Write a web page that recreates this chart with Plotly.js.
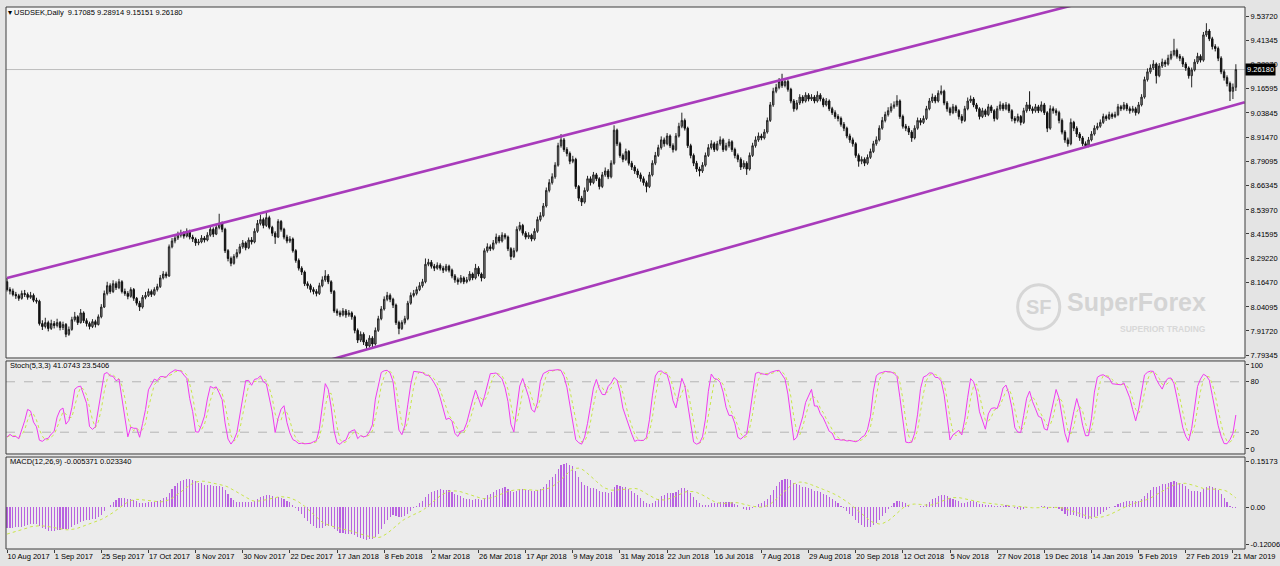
<!DOCTYPE html>
<html><head><meta charset="utf-8">
<script src="https://cdn.plot.ly/plotly-3.0.1.min.js"></script>
<style>html,body{margin:0;padding:0;background:#e4e4e4;}#chart{width:1280px;height:566px;}</style>
</head><body><div id="chart"></div>
<script>
// ---- Chart data ----
const symbolTitle = 'USDSEK,Daily';
const headerValues = ['9.17085', '9.28914', '9.15151', '9.26180'];
const stochLabel = 'Stoch(5,3,3) 41.0743 23.5406';
const macdLabel = 'MACD(12,26,9) -0.005371 0.023340';
const dateLabels = ['10 Aug 2017','1 Sep 2017','25 Sep 2017','17 Oct 2017','8 Nov 2017','30 Nov 2017','22 Dec 2017','17 Jan 2018','8 Feb 2018','2 Mar 2018','26 Mar 2018','17 Apr 2018','9 May 2018','31 May 2018','22 Jun 2018','16 Jul 2018','7 Aug 2018','29 Aug 2018','20 Sep 2018','12 Oct 2018','5 Nov 2018','27 Nov 2018','19 Dec 2018','14 Jan 2019','5 Feb 2019','27 Feb 2019','21 Mar 2019'];
const barsPerLabel = 16;
const priceTickValues = [9.53720, 9.41345, 9.28970, 9.16595, 9.03845, 8.91470, 8.79095, 8.66345, 8.53970, 8.41595, 8.29220, 8.16470, 8.04095, 7.91720, 7.79345];
const stochTickValues = [100, 80, 20, 0];
const stochLevels = [80, 20];
const macdTickValues = [0.15173, 0.00, -0.12006];
const macdTickText = ['0.15173', '0.00', '-0.12006'];

const opens = [
8.170,8.130,8.122,8.105,8.098,8.085,8.110,8.105,8.090,8.100,
8.075,8.070,7.955,7.940,7.960,7.930,7.955,7.945,7.960,7.935,
7.950,7.900,7.925,7.975,7.990,7.960,8.010,7.970,7.955,7.940,
7.965,7.950,7.990,8.040,8.110,8.150,8.120,8.160,8.140,8.170,
8.120,8.110,8.095,8.130,8.085,8.060,8.040,8.090,8.100,8.120,
8.105,8.130,8.145,8.190,8.210,8.200,8.350,8.380,8.395,8.410,
8.420,8.405,8.430,8.400,8.390,8.370,8.375,8.395,8.385,8.410,
8.440,8.415,8.450,8.470,8.440,8.330,8.290,8.265,8.300,8.320,
8.350,8.370,8.345,8.385,8.375,8.430,8.470,8.490,8.460,8.500,
8.450,8.420,8.400,8.480,8.440,8.400,8.380,8.390,8.330,8.280,
8.240,8.220,8.160,8.150,8.130,8.120,8.110,8.150,8.180,8.200,
8.170,8.120,8.020,8.010,8.000,8.020,8.000,8.010,7.990,7.920,
7.870,7.900,7.860,7.840,7.880,7.850,7.920,7.980,8.030,8.080,
8.100,8.080,8.050,7.960,7.930,7.960,7.980,8.060,8.100,8.110,
8.130,8.150,8.170,8.260,8.270,8.250,8.240,8.255,8.240,8.230,
8.250,8.230,8.200,8.180,8.170,8.190,8.170,8.180,8.210,8.190,
8.240,8.210,8.190,8.330,8.350,8.340,8.370,8.400,8.380,8.410,
8.400,8.340,8.300,8.330,8.440,8.460,8.420,8.400,8.410,8.390,
8.430,8.490,8.510,8.560,8.640,8.680,8.710,8.770,8.870,8.900,
8.850,8.830,8.790,8.800,8.660,8.600,8.580,8.640,8.700,8.680,
8.720,8.700,8.660,8.720,8.740,8.710,8.780,8.950,8.880,8.820,
8.800,8.840,8.780,8.760,8.740,8.720,8.700,8.680,8.660,8.720,
8.780,8.820,8.860,8.900,8.880,8.920,8.870,8.850,8.920,8.970,
9.000,8.960,8.870,8.820,8.780,8.750,8.740,8.770,8.820,8.860,
8.880,8.850,8.880,8.900,8.850,8.870,8.890,8.850,8.820,8.800,
8.760,8.780,8.750,8.820,8.870,8.900,8.920,8.910,8.940,9.000,
9.080,9.150,9.170,9.200,9.180,9.200,9.160,9.100,9.060,9.090,
9.120,9.100,9.130,9.110,9.120,9.100,9.130,9.110,9.080,9.100,
9.060,9.040,9.020,9.010,8.980,8.960,8.920,8.900,8.880,8.820,
8.790,8.800,8.780,8.810,8.840,8.880,8.900,8.960,9.000,9.030,
9.050,9.070,9.080,9.100,9.020,8.970,8.960,8.940,8.910,8.960,
9.000,8.990,9.010,9.060,9.100,9.120,9.100,9.140,9.150,9.090,
9.060,9.040,9.070,9.050,9.020,9.000,9.060,9.100,9.110,9.080,
9.060,9.020,9.050,9.030,9.070,9.050,9.010,9.060,9.080,9.060,
9.080,9.050,9.010,9.000,9.020,8.990,9.050,9.080,9.060,9.050,
9.070,9.050,9.080,9.040,8.960,9.060,9.050,9.040,9.000,8.940,
8.900,8.880,8.990,8.960,8.930,8.910,8.880,8.870,8.900,8.930,
8.960,8.970,8.990,9.020,9.010,9.030,9.020,9.030,9.070,9.060,
9.080,9.060,9.050,9.060,9.040,9.080,9.120,9.210,9.250,9.270,
9.290,9.230,9.280,9.300,9.290,9.320,9.340,9.360,9.330,9.320,
9.290,9.270,9.230,9.260,9.300,9.330,9.310,9.440,9.460,9.420,
9.380,9.370,9.320,9.250,9.220,9.190,9.150,9.17085];

const highs = [
8.190,8.142,8.135,8.118,8.108,8.125,8.128,8.115,8.118,8.110,
8.088,8.078,7.972,7.985,7.970,7.975,7.968,7.980,7.968,7.965,
7.958,7.940,7.990,8.015,7.998,8.030,8.018,7.982,7.965,7.978,
7.975,8.002,8.055,8.125,8.170,8.162,8.178,8.172,8.185,8.178,
8.135,8.122,8.142,8.138,8.092,8.072,8.102,8.118,8.135,8.130,
8.142,8.160,8.205,8.225,8.222,8.362,8.395,8.410,8.428,8.438,
8.430,8.445,8.438,8.412,8.398,8.390,8.410,8.405,8.425,8.455,
8.450,8.468,8.520,8.480,8.448,8.338,8.300,8.312,8.338,8.365,
8.385,8.378,8.398,8.400,8.445,8.488,8.515,8.500,8.530,8.510,
8.458,8.430,8.492,8.488,8.448,8.412,8.405,8.398,8.338,8.290,
8.250,8.228,8.172,8.160,8.142,8.132,8.165,8.198,8.230,8.210,
8.178,8.128,8.032,8.022,8.035,8.030,8.025,8.018,7.998,7.930,
7.915,7.910,7.872,7.895,7.890,7.935,7.995,8.045,8.095,8.118,
8.110,8.088,8.058,7.970,7.972,7.995,8.072,8.115,8.128,8.145,
8.168,8.185,8.290,8.288,8.282,8.262,8.270,8.265,8.252,8.262,
8.258,8.238,8.210,8.192,8.205,8.198,8.195,8.225,8.218,8.262,
8.250,8.218,8.342,8.368,8.362,8.385,8.418,8.410,8.425,8.420,
8.408,8.348,8.345,8.455,8.478,8.468,8.430,8.425,8.418,8.445,
8.505,8.528,8.575,8.655,8.698,8.728,8.785,8.885,8.930,8.910,
8.862,8.840,8.818,8.808,8.668,8.612,8.655,8.715,8.712,8.735,
8.730,8.708,8.735,8.758,8.750,8.795,8.975,8.958,8.890,8.830,
8.855,8.848,8.792,8.770,8.752,8.732,8.712,8.690,8.735,8.795,
8.838,8.875,8.918,8.912,8.935,8.928,8.882,8.935,8.988,9.040,
9.010,8.968,8.880,8.830,8.792,8.762,8.785,8.835,8.878,8.898,
8.890,8.895,8.918,8.908,8.885,8.905,8.898,8.860,8.830,8.810,
8.795,8.790,8.835,8.885,8.918,8.938,8.932,8.955,9.015,9.095,
9.168,9.188,9.218,9.240,9.215,9.210,9.168,9.110,9.105,9.135,
9.130,9.145,9.140,9.135,9.130,9.150,9.140,9.118,9.115,9.108,
9.070,9.052,9.032,9.020,8.992,8.968,8.932,8.912,8.888,8.830,
8.815,8.810,8.825,8.855,8.895,8.918,8.975,9.018,9.045,9.068,
9.088,9.098,9.130,9.108,9.030,8.982,8.972,8.950,8.975,9.015,
9.012,9.025,9.075,9.115,9.138,9.130,9.155,9.180,9.158,9.100,
9.070,9.085,9.080,9.058,9.032,9.075,9.118,9.128,9.120,9.090,
9.068,9.065,9.060,9.085,9.080,9.058,9.075,9.098,9.090,9.095,
9.088,9.058,9.022,9.035,9.028,9.065,9.095,9.150,9.072,9.085,
9.080,9.098,9.090,9.048,9.078,9.072,9.062,9.050,9.010,8.950,
8.912,9.010,8.998,8.970,8.940,8.920,8.892,8.915,8.945,8.975,
8.988,9.005,9.035,9.030,9.045,9.040,9.045,9.085,9.080,9.095,
9.090,9.072,9.075,9.070,9.095,9.135,9.225,9.268,9.288,9.310,
9.298,9.295,9.318,9.312,9.338,9.358,9.420,9.370,9.342,9.330,
9.300,9.278,9.272,9.315,9.348,9.340,9.455,9.500,9.470,9.430,
9.392,9.380,9.330,9.262,9.232,9.200,9.190,9.28914];

const lows = [
8.120,8.105,8.095,8.082,8.072,8.078,8.092,8.078,8.082,8.065,
8.058,7.945,7.922,7.930,7.915,7.922,7.930,7.935,7.920,7.922,
7.885,7.892,7.918,7.965,7.948,7.955,7.958,7.940,7.925,7.932,
7.935,7.945,7.982,8.035,8.100,8.108,8.112,8.128,8.132,8.110,
8.098,8.080,8.088,8.072,8.048,8.020,8.032,8.080,8.092,8.092,
8.098,8.120,8.138,8.182,8.188,8.195,8.342,8.368,8.385,8.398,
8.392,8.398,8.388,8.375,8.355,8.358,8.368,8.372,8.378,8.402,
8.400,8.410,8.440,8.425,8.318,8.275,8.250,8.258,8.290,8.312,
8.340,8.332,8.338,8.362,8.368,8.422,8.460,8.445,8.452,8.440,
8.405,8.365,8.395,8.428,8.388,8.368,8.370,8.320,8.268,8.228,
8.205,8.148,8.135,8.115,8.105,8.095,8.102,8.142,8.170,8.158,
8.108,8.010,7.995,7.988,7.992,7.985,7.990,7.975,7.905,7.855,
7.860,7.845,7.820,7.832,7.830,7.842,7.912,7.972,8.022,8.070,
8.065,8.035,7.948,7.900,7.922,7.950,7.972,8.052,8.090,8.100,
8.122,8.140,8.162,8.250,8.238,8.225,8.232,8.228,8.215,8.222,
8.218,8.188,8.165,8.155,8.162,8.158,8.162,8.172,8.178,8.182,
8.198,8.172,8.185,8.320,8.328,8.332,8.362,8.368,8.372,8.388,
8.328,8.282,8.292,8.322,8.430,8.408,8.388,8.390,8.378,8.382,
8.422,8.480,8.502,8.552,8.630,8.670,8.700,8.762,8.860,8.838,
8.815,8.775,8.780,8.648,8.585,8.560,8.572,8.632,8.665,8.672,
8.688,8.645,8.652,8.710,8.698,8.702,8.772,8.868,8.808,8.785,
8.792,8.768,8.745,8.725,8.705,8.685,8.665,8.630,8.652,8.712,
8.770,8.812,8.850,8.865,8.872,8.858,8.835,8.842,8.912,8.960,
8.948,8.858,8.805,8.765,8.735,8.712,8.730,8.762,8.812,8.850,
8.838,8.842,8.870,8.838,8.842,8.860,8.838,8.805,8.785,8.745,
8.750,8.720,8.742,8.812,8.860,8.890,8.898,8.902,8.932,8.992,
9.070,9.140,9.160,9.168,9.170,9.148,9.088,9.045,9.052,9.080,
9.088,9.092,9.098,9.100,9.088,9.092,9.098,9.068,9.072,9.048,
9.028,9.008,8.995,8.968,8.945,8.908,8.885,8.865,8.808,8.762,
8.775,8.765,8.772,8.802,8.832,8.870,8.892,8.952,8.990,9.020,
9.040,9.060,9.070,9.008,8.958,8.945,8.925,8.890,8.902,8.952,
8.975,8.982,9.002,9.052,9.090,9.088,9.092,9.130,9.078,9.045,
9.025,9.032,9.038,9.005,8.985,8.992,9.052,9.090,9.068,9.045,
9.005,9.012,9.018,9.022,9.038,8.995,9.002,9.050,9.048,9.052,
9.038,8.995,8.985,8.990,8.975,8.982,9.040,9.048,9.035,9.040,
9.038,9.042,9.028,8.940,8.952,9.035,9.025,8.985,8.928,8.885,
8.865,8.872,8.945,8.915,8.895,8.868,8.860,8.862,8.892,8.922,
8.950,8.962,8.982,8.998,9.002,9.008,9.012,9.022,9.048,9.052,
9.048,9.035,9.040,9.025,9.032,9.072,9.112,9.200,9.240,9.260,
9.190,9.222,9.270,9.275,9.282,9.310,9.330,9.318,9.305,9.275,
9.255,9.215,9.170,9.252,9.290,9.298,9.302,9.430,9.408,9.365,
9.355,9.305,9.238,9.205,9.175,9.100,9.110,9.15151];

const closes = [
8.130,8.122,8.105,8.098,8.085,8.110,8.105,8.090,8.100,8.075,
8.070,7.955,7.940,7.960,7.930,7.955,7.945,7.960,7.935,7.950,
7.900,7.925,7.975,7.990,7.960,8.010,7.970,7.955,7.940,7.965,
7.950,7.990,8.040,8.110,8.150,8.120,8.160,8.140,8.170,8.120,
8.110,8.095,8.130,8.085,8.060,8.040,8.090,8.100,8.120,8.105,
8.130,8.145,8.190,8.210,8.200,8.350,8.380,8.395,8.410,8.420,
8.405,8.430,8.400,8.390,8.370,8.375,8.395,8.385,8.410,8.440,
8.415,8.450,8.470,8.440,8.330,8.290,8.265,8.300,8.320,8.350,
8.370,8.345,8.385,8.375,8.430,8.470,8.490,8.460,8.500,8.450,
8.420,8.400,8.480,8.440,8.400,8.380,8.390,8.330,8.280,8.240,
8.220,8.160,8.150,8.130,8.120,8.110,8.150,8.180,8.200,8.170,
8.120,8.020,8.010,8.000,8.020,8.000,8.010,7.990,7.920,7.870,
7.900,7.860,7.840,7.880,7.850,7.920,7.980,8.030,8.080,8.100,
8.080,8.050,7.960,7.930,7.960,7.980,8.060,8.100,8.110,8.130,
8.150,8.170,8.260,8.270,8.250,8.240,8.255,8.240,8.230,8.250,
8.230,8.200,8.180,8.170,8.190,8.170,8.180,8.210,8.190,8.240,
8.210,8.190,8.330,8.350,8.340,8.370,8.400,8.380,8.410,8.400,
8.340,8.300,8.330,8.440,8.460,8.420,8.400,8.410,8.390,8.430,
8.490,8.510,8.560,8.640,8.680,8.710,8.770,8.870,8.900,8.850,
8.830,8.790,8.800,8.660,8.600,8.580,8.640,8.700,8.680,8.720,
8.700,8.660,8.720,8.740,8.710,8.780,8.950,8.880,8.820,8.800,
8.840,8.780,8.760,8.740,8.720,8.700,8.680,8.660,8.720,8.780,
8.820,8.860,8.900,8.880,8.920,8.870,8.850,8.920,8.970,9.000,
8.960,8.870,8.820,8.780,8.750,8.740,8.770,8.820,8.860,8.880,
8.850,8.880,8.900,8.850,8.870,8.890,8.850,8.820,8.800,8.760,
8.780,8.750,8.820,8.870,8.900,8.920,8.910,8.940,9.000,9.080,
9.150,9.170,9.200,9.180,9.200,9.160,9.100,9.060,9.090,9.120,
9.100,9.130,9.110,9.120,9.100,9.130,9.110,9.080,9.100,9.060,
9.040,9.020,9.010,8.980,8.960,8.920,8.900,8.880,8.820,8.790,
8.800,8.780,8.810,8.840,8.880,8.900,8.960,9.000,9.030,9.050,
9.070,9.080,9.100,9.020,8.970,8.960,8.940,8.910,8.960,9.000,
8.990,9.010,9.060,9.100,9.120,9.100,9.140,9.150,9.090,9.060,
9.040,9.070,9.050,9.020,9.000,9.060,9.100,9.110,9.080,9.060,
9.020,9.050,9.030,9.070,9.050,9.010,9.060,9.080,9.060,9.080,
9.050,9.010,9.000,9.020,8.990,9.050,9.080,9.060,9.050,9.070,
9.050,9.080,9.040,8.960,9.060,9.050,9.040,9.000,8.940,8.900,
8.880,8.990,8.960,8.930,8.910,8.880,8.870,8.900,8.930,8.960,
8.970,8.990,9.020,9.010,9.030,9.020,9.030,9.070,9.060,9.080,
9.060,9.050,9.060,9.040,9.080,9.120,9.210,9.250,9.270,9.290,
9.230,9.280,9.300,9.290,9.320,9.340,9.360,9.330,9.320,9.290,
9.270,9.230,9.260,9.300,9.330,9.310,9.440,9.460,9.420,9.380,
9.370,9.320,9.250,9.220,9.190,9.150,9.171,9.2618];

// Trend channel drawn on the chart (bar index, price)
const channelUpperBars = [0, 420];
const channelUpperPrices = [8.1895, 9.8186];
const channelLowerBars = [100, 420];
const channelLowerPrices = [7.7277, 9.0935];

// Indicator settings shown in the panel labels
const stochPeriods = [5, 3, 3];
const macdPeriods = [12, 26, 9];
// EMA state carried in from history before the first visible bar (MACD reads about -0.07 at the left edge)
const macdSeedEma = [8.175, 8.245];
const macdSeedSignal = -0.09;

// ---- Indicators derived from the OHLC series (as the terminal computes them) ----
const bars = closes.map((_, i) => i);
function calcStoch(h, l, c, kP, slowP, dP) {
  const num = [], den = [], K = [], D = [];
  for (let i = 0; i < c.length; i++) {
    let lo = Infinity, hi = -Infinity;
    for (let j = Math.max(0, i - kP + 1); j <= i; j++) { lo = Math.min(lo, l[j]); hi = Math.max(hi, h[j]); }
    num.push(c[i] - lo); den.push(hi - lo);
    let sn = 0, sd = 0;
    for (let j = Math.max(0, i - slowP + 1); j <= i; j++) { sn += num[j]; sd += den[j]; }
    K.push(sd > 0 ? 100 * sn / sd : 50);
    let s = 0, n = 0;
    for (let j = Math.max(0, i - dP + 1); j <= i; j++) { s += K[j]; n++; }
    D.push(s / n);
  }
  return [K, D];
}
function calcMacd(c, fast, slow, sig) {
  let ef = macdSeedEma[0], es = macdSeedEma[1];
  const m = [], s = [];
  for (let i = 0; i < c.length; i++) {
    ef += (c[i] - ef) * 2 / (fast + 1);
    es += (c[i] - es) * 2 / (slow + 1);
    m.push(ef - es);
    let sum = 0;
    for (let j = i - sig + 1; j <= i; j++) sum += (j >= 0 ? m[j] : macdSeedSignal);
    s.push(sum / sig);
  }
  return [m, s];
}
const [stochMain, stochSignal] = calcStoch(highs, lows, closes, ...stochPeriods);
const [macdMain, macdSignal] = calcMacd(closes, ...macdPeriods);

// ---- Plot ----
const FONT = 'Liberation Sans, Arial, sans-serif';
const tickFont = {family: FONT, size: 7.5, color: '#000'};
const labelBars = dateLabels.map((_, i) => i * barsPerLabel);
const lastClose = closes[closes.length - 1];

const traces = [
  {type: 'candlestick', x: bars, open: opens, high: highs, low: lows, close: closes,
   xaxis: 'x', yaxis: 'y', whiskerwidth: 0,
   increasing: {line: {color: '#262626', width: 1}, fillcolor: '#8c8c8c'},
   decreasing: {line: {color: '#111111', width: 1}, fillcolor: '#111111'},
   hoverinfo: 'skip', showlegend: false},
  {type: 'scatter', mode: 'lines', x: channelUpperBars, y: channelUpperPrices, xaxis: 'x', yaxis: 'y',
   line: {color: '#a83bbb', width: 2.6}, showlegend: false, hoverinfo: 'skip'},
  {type: 'scatter', mode: 'lines', x: channelLowerBars, y: channelLowerPrices, xaxis: 'x', yaxis: 'y',
   line: {color: '#a83bbb', width: 2.6}, showlegend: false, hoverinfo: 'skip'},
  {type: 'scatter', mode: 'lines', x: bars, y: stochSignal, xaxis: 'x', yaxis: 'y2',
   line: {color: '#c9e64a', width: 1, dash: 'dot'}, showlegend: false, hoverinfo: 'skip'},
  {type: 'scatter', mode: 'lines', x: bars, y: stochMain, xaxis: 'x', yaxis: 'y2',
   line: {color: '#f03cf0', width: 1}, showlegend: false, hoverinfo: 'skip'},
  {type: 'bar', x: bars, y: macdMain, xaxis: 'x', yaxis: 'y3', width: 0.38,
   marker: {color: '#b862e0', line: {width: 0}}, showlegend: false, hoverinfo: 'skip'},
  {type: 'scatter', mode: 'lines', x: bars, y: macdSignal, xaxis: 'x', yaxis: 'y3',
   line: {color: '#c9e64a', width: 1, dash: 'dot'}, showlegend: false, hoverinfo: 'skip'}
];

const panelY = ['y', 'y2', 'y3'];
const panelFill = ['#f4f4f4', '#ececec', '#ececec'];
const shapes = [];
panelY.forEach((ya, k) => {
  shapes.push({type: 'rect', xref: 'x domain', yref: ya + ' domain', x0: 0, x1: 1, y0: 0, y1: 1,
    fillcolor: panelFill[k], line: {width: 0}, layer: 'below'});
  shapes.push({type: 'rect', xref: 'x domain', yref: ya + ' domain', x0: 0, x1: 1, y0: 0, y1: 1,
    fillcolor: 'rgba(0,0,0,0)', line: {color: '#3c3c3c', width: 1}, layer: 'above'});
});
stochLevels.forEach(v => shapes.push({type: 'line', xref: 'x domain', yref: 'y2', x0: 0, x1: 1, y0: v, y1: v,
  line: {color: '#b4b4b4', width: 1, dash: 'dash'}, layer: 'below'}));
shapes.push({type: 'line', xref: 'x domain', yref: 'y', x0: 0, x1: 1, y0: lastClose, y1: lastClose,
  line: {color: '#bdbdbd', width: 1}, layer: 'below'});
// watermark logo ring
shapes.push({type: 'circle', xref: 'paper', yref: 'paper', x0: 0.8165, x1: 0.8505, y0: 0.4055, y1: 0.4875,
  line: {color: '#d6d6d6', width: 3}, fillcolor: 'rgba(0,0,0,0)', layer: 'below'});

const annotations = [
  {xref: 'paper', yref: 'paper', x: 0.0, y: 0.9905, xanchor: 'left', yanchor: 'middle', showarrow: false,
   text: '\u25BE ' + symbolTitle + '  ' + headerValues.join(' '), font: {family: FONT, size: 7.5, color: '#000'}},
  {xref: 'paper', yref: 'paper', x: 0.002, y: 0.338, xanchor: 'left', yanchor: 'middle', showarrow: false,
   text: stochLabel, font: {family: FONT, size: 7.5, color: '#000'}},
  {xref: 'paper', yref: 'paper', x: 0.002, y: 0.161, xanchor: 'left', yanchor: 'middle', showarrow: false,
   text: macdLabel, font: {family: FONT, size: 7.5, color: '#000'}},
  {xref: 'paper', yref: 'y', x: 1.0, y: lastClose, xanchor: 'left', yanchor: 'middle', showarrow: false,
   text: lastClose.toFixed(5), bgcolor: '#000', borderpad: 1, font: {family: FONT, size: 7.5, color: '#fff'}},
  {xref: 'paper', yref: 'paper', x: 0.8337, y: 0.4465, xanchor: 'center', yanchor: 'middle', showarrow: false,
   text: '<b>SF</b>', font: {family: FONT, size: 20, color: '#d4d4d4'}},
  {xref: 'paper', yref: 'paper', x: 0.8545, y: 0.455, xanchor: 'left', yanchor: 'middle', showarrow: false,
   text: '<b>SuperForex</b>', font: {family: FONT, size: 25, color: '#d4d4d4'}},
  {xref: 'paper', yref: 'paper', x: 0.9705, y: 0.406, xanchor: 'right', yanchor: 'middle', showarrow: false,
   text: '<b>SUPERIOR TRADING</b>', font: {family: FONT, size: 8.5, color: '#d8d8d8'}}
];

const yCommon = {side: 'right', showgrid: false, zeroline: false, ticks: 'outside', ticklen: 3,
  tickcolor: '#3c3c3c', tickfont: tickFont, showline: false, fixedrange: true};

const layout = {
  width: 1280, height: 566,
  margin: {l: 6, r: 35, t: 7, b: 17},
  paper_bgcolor: '#e4e4e4', plot_bgcolor: 'rgba(0,0,0,0)',
  showlegend: false, bargap: 0,
  xaxis: {anchor: 'y3', range: [-0.34, 420.1], showgrid: false, zeroline: false,
    tickmode: 'array', tickvals: labelBars, ticktext: dateLabels, ticks: 'outside', ticklen: 3,
    tickangle: 0, automargin: false,
    tickcolor: '#3c3c3c', tickfont: tickFont, ticklabelposition: 'outside right',
    rangeslider: {visible: false}, showline: false, fixedrange: true},
  yaxis: Object.assign({}, yCommon, {domain: [0.3524, 1], range: [7.7780, 9.5835],
    tickmode: 'array', tickvals: priceTickValues, ticktext: priceTickValues.map(v => v.toFixed(5))}),
  yaxis2: Object.assign({}, yCommon, {domain: [0.1753, 0.3469], range: [-5.95, 104.76],
    tickmode: 'array', tickvals: stochTickValues, ticktext: stochTickValues.map(String)}),
  yaxis3: Object.assign({}, yCommon, {domain: [0, 0.1697], range: [-0.13643, 0.16483],
    tickmode: 'array', tickvals: macdTickValues, ticktext: macdTickText}),
  shapes: shapes,
  annotations: annotations
};

Plotly.newPlot('chart', traces, layout, {staticPlot: true, displayModeBar: false});
</script>
</body></html>
